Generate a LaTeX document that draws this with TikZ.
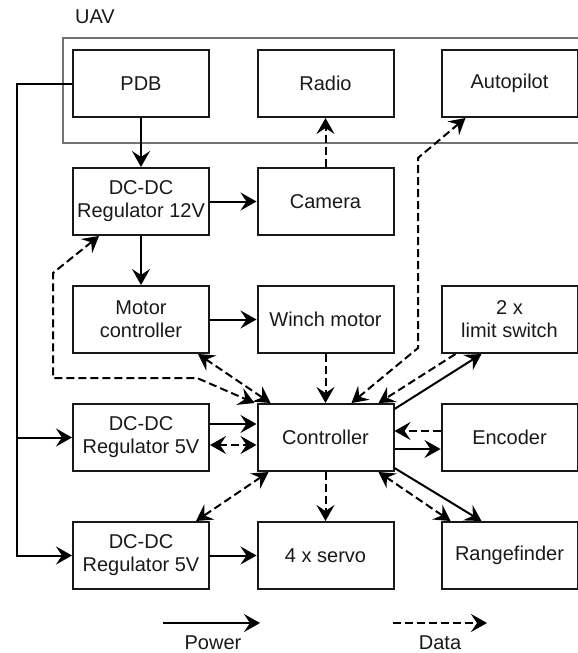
\documentclass[tikz,border=0pt]{standalone}
\usepackage{fontspec}
\setmainfont{Liberation Sans}
\usetikzlibrary{arrows.meta,calc}
\begin{document}
\begin{tikzpicture}[x=1pt,y=-1pt,
  txt/.style={font=\fontsize{20}{23}\selectfont, text=black!90},
  blk/.style={txt, draw=black!90, line width=2pt, minimum width=136pt, minimum height=67pt, inner sep=0pt, align=center},
  >={Stealth[length=16pt,width=18pt,inset=6pt]},
  pw/.style={line width=2pt, ->},
  dt/.style={line width=2pt, dash pattern=on 8pt off 4pt, ->},
  dtb/.style={line width=2pt, dash pattern=on 8pt off 4pt, <->},
  uav/.style={draw=black!55, line width=1.5pt}
  ]
\useasboundingbox (0,0) rectangle (578,653);
\draw[uav] (63,38) rectangle (590,143);
\node[txt] (uavl) at (95,17) {UAV};

\node[blk] (pdb)   at (141,83.5)   {PDB};
\node[blk] (radio) at (325.5,83.5) {Radio};
\node[blk] (ap)    at (509.5,83.5) {Autopilot};
\node[blk] (reg12) at (141,201.5)  {DC-DC\\Regulator 12V};
\node[blk] (cam)   at (325.5,201.5){Camera};
\node[blk] (motc)  at (141,319.5)  {Motor\\controller};
\node[blk] (winch) at (325.5,319.5){Winch motor};
\node[blk] (lim)   at (509.5,319.5){2 x\\limit switch};
\node[blk] (reg5a) at (141,437.5)  {DC-DC\\Regulator 5V};
\node[blk] (ctrl)  at (325.5,437.5){Controller};
\node[blk] (enc)   at (509.5,437.5){Encoder};
\node[blk] (reg5b) at (141,555.5)  {DC-DC\\Regulator 5V};
\node[blk] (servo) at (325.5,555.5){4 x servo};
\node[blk] (rng)   at (509.5,555.5){Rangefinder};

% power bus from PDB
\coordinate (bus0) at (17,83.5);
\coordinate (busj) at (17,437.5);
\draw[line width=2pt] (pdb.west) -- (bus0) -- (busj);
\draw[pw] (busj) -- (reg5a.west);
\draw[pw] (busj) |- (reg5b.west);

\draw[pw] (pdb.south) -- (reg12.north);
\draw[pw] (reg12.east) -- (cam.west);
\draw[dt] (cam.north) -- (radio.south);
\draw[pw] (reg12.south) -- (motc.north);
\draw[pw] (motc.east) -- (winch.west);
\draw[dt] (winch.south) -- (ctrl.north);

% loop from controller to 12V regulator
\coordinate (l1) at (53,273);
\coordinate (l2) at (53,378);
\coordinate (l3) at (197,378);
\draw[dtb] ([xshift=27pt]reg12.south west) -- (l1) -- (l2) -- (l3) -- ([xshift=-2pt]ctrl.north west);

\draw[dtb] ([xshift=-12pt]motc.south east) -- ([xshift=14pt]ctrl.north west);
\draw[pw] ([yshift=13.5pt]reg5a.east) -- ([yshift=13.5pt]ctrl.west);
\draw[dtb] ([yshift=-7.5pt]reg5a.east) -- ([yshift=-7.5pt]ctrl.west);
\draw[dtb] ([xshift=12pt]ctrl.south west) -- ([xshift=-14pt]reg5b.north east);
\draw[dt] (ctrl.south) -- (servo.north);
\draw[pw] (reg5b.east) -- (servo.west);
\draw[dtb] ([xshift=-16pt]ctrl.south east) -- ([xshift=10pt]rng.north west);
\draw[pw] ([yshift=4pt]ctrl.south east) -- ([xshift=41pt]rng.north west);
\draw[dt] ([yshift=6.5pt]enc.west) -- ([yshift=6.5pt]ctrl.east);
\draw[pw] ([yshift=-11.5pt]ctrl.east) -- ([yshift=-11.5pt]enc.west);
\draw[pw] ([yshift=-6pt]ctrl.north east) -- ([xshift=41pt]lim.south west);
\draw[dt] ([xshift=15pt]lim.south west) -- ([xshift=-16pt]ctrl.north east);

% autopilot link
\coordinate (a1) at (418,348);
\coordinate (a2) at (418,158);
\draw[dtb] ([xshift=-43pt]ctrl.north east) -- (a1) -- (a2) -- ([xshift=25pt]ap.south west);

% legend
\coordinate (pw1) at (163,623);
\coordinate (pw2) at (260,623);
\draw[pw] (pw1) -- (pw2);
\node[txt] (pwl) at (213,643) {Power};
\coordinate (d1) at (393,623);
\coordinate (d2) at (487,623);
\draw[dt] (d1) -- (d2);
\node[txt] (dl) at (440,643) {Data};
\end{tikzpicture}
\end{document}
